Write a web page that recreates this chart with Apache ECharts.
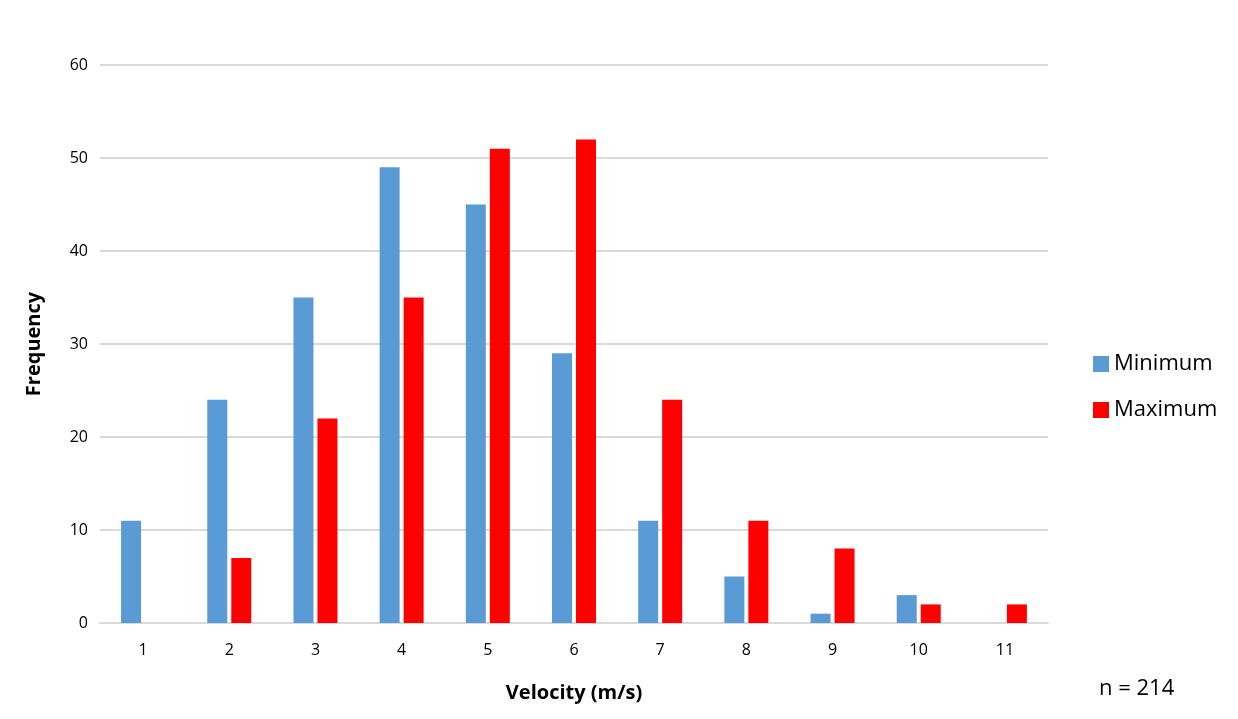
<!DOCTYPE html>
<html><head><meta charset="utf-8">
<script src="https://cdn.jsdelivr.net/npm/echarts@6/dist/echarts.min.js"></script>
<style>html,body{margin:0;padding:0;background:#fff}#c{width:1238px;height:719px}</style>
</head><body><div id="c"></div>
<script>
const categories = ['1','2','3','4','5','6','7','8','9','10','11'];
const minimum = [11, 24, 35, 49, 45, 29, 11, 5, 1, 3, 0];
const maximum = [0, 7, 22, 35, 51, 52, 24, 11, 8, 2, 2];
const yTicks = {min: 0, max: 60, interval: 10};
const font = '"Open Sans", "DejaVu Sans", sans-serif';
const chart = echarts.init(document.getElementById('c'));
chart.setOption({
  animation: false,
  backgroundColor: '#fff',
  grid: {left: 100, right: 190, top: 65, bottom: 96, containLabel: false},
  legend: {
    orient: 'vertical', left: 1088, top: 348, itemGap: 24,
    itemWidth: 16, itemHeight: 16, icon: 'rect',
    textStyle: {fontFamily: font, fontSize: 22, color: '#000'},
    data: ['Minimum', 'Maximum']
  },
  xAxis: {
    type: 'category', data: categories,
    name: 'Velocity (m/s)', nameLocation: 'middle', nameGap: 60,
    nameTextStyle: {fontFamily: font, fontSize: 20, fontWeight: 'bold', color: '#000'},
    axisLine: {lineStyle: {color: '#d9d9d9', width: 2}},
    axisTick: {show: false},
    axisLabel: {fontFamily: font, fontSize: 16, color: '#000', margin: 19}
  },
  yAxis: {
    type: 'value', min: yTicks.min, max: yTicks.max, interval: yTicks.interval,
    name: 'Frequency', nameLocation: 'middle', nameGap: 56, nameRotate: 90,
    nameTextStyle: {fontFamily: font, fontSize: 20, fontWeight: 'bold', color: '#000'},
    axisLine: {show: false}, axisTick: {show: false},
    axisLabel: {fontFamily: font, fontSize: 16, color: '#000', margin: 12},
    splitLine: {lineStyle: {color: '#d9d9d9', width: 2}}
  },
  series: [
    {name: 'Minimum', type: 'bar', data: minimum, barWidth: 20, barGap: '20%',
     itemStyle: {color: '#5b9bd5'}},
    {name: 'Maximum', type: 'bar', data: maximum, barWidth: 20,
     itemStyle: {color: '#ff0000'}}
  ],
  graphic: [{
    type: 'text', left: 1099, top: 678,
    style: {text: 'n = 214', fontFamily: font, fontSize: 22, fill: '#000'}
  }]
});
</script></body></html>
